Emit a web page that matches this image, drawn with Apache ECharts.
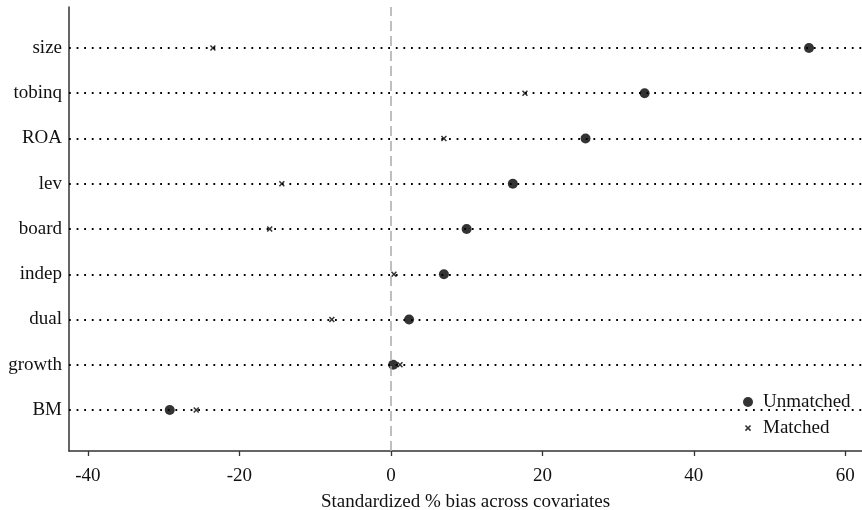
<!DOCTYPE html>
<html>
<head>
<meta charset="utf-8">
<script src="https://cdn.jsdelivr.net/npm/echarts@6/dist/echarts.min.js"></script>
<style>
html,body{margin:0;padding:0;background:#fff;}
#chart{width:862px;height:510px;}
</style>
</head>
<body>
<div id="chart"></div>
<script>
var categories = ['size','tobinq','ROA','lev','board','indep','dual','growth','BM'];
var unmatched = [55.2, 33.5, 25.7, 16.1, 10.0, 7.0, 2.4, 0.3, -29.2];
var matched   = [-23.5, 17.7, 7.0, -14.4, -16.0, 0.4, -7.8, 1.2, -25.7];
var xTicks = [-40, -20, 0, 20, 40, 60];
var seriesNames = ['Unmatched', 'Matched'];
var xTitle = 'Standardized % bias across covariates';

var n = categories.length;
function rowPos(i){ return n - i; }
var rowValues = categories.map(function(c, i){ return rowPos(i); });
function toPoints(arr){ return arr.map(function(v, i){ return [v, rowPos(i)]; }); }

var crossPath = 'M0,1.8 L1.8,0 L5,3.2 L8.2,0 L10,1.8 L6.8,5 L10,8.2 L8.2,10 L5,6.8 L1.8,10 L0,8.2 L3.2,5 Z';
var crossLegend = 'path://M-3,-3 L-3,-3 Z M13,13 L13,13 Z ' + crossPath;
var font = 'Liberation Serif';
var fs = 19;

var markData = rowValues.map(function(v){
  return { yAxis: v, lineStyle: { color: '#000', width: 1.8, type: [1.8, 5.8] } };
});
markData.push({ xAxis: 0, lineStyle: { color: '#aaaaaa', width: 1.5, type: [10, 5] } });

var chart = echarts.init(document.getElementById('chart'), null, {renderer: 'canvas'});
chart.setOption({
  animation: false,
  backgroundColor: '#fff',
  grid: { left: 69, right: 0, top: 7, bottom: 59, containLabel: false, outerBoundsMode: 'none' },
  xAxis: {
    type: 'value', min: -42.5, max: 62.2,
    splitLine: { show: false },
    axisLine: { show: true, onZero: false, lineStyle: { color: '#333', width: 1.5 } },
    axisTick: { show: true, inside: false, length: 5, customValues: xTicks, lineStyle: { color: '#333', width: 1.3 } },
    axisLabel: { customValues: xTicks, margin: 16, color: '#111', fontFamily: font, fontSize: fs },
    name: xTitle, nameLocation: 'middle', nameGap: 42,
    nameTextStyle: { color: '#111', fontFamily: font, fontSize: fs }
  },
  yAxis: {
    type: 'value', min: 0.094, max: n + 0.906,
    splitLine: { show: false },
    axisLine: { show: true, onZero: false, lineStyle: { color: '#333', width: 1.5 } },
    axisTick: { show: false },
    axisLabel: {
      customValues: rowValues, margin: 7, color: '#111', fontFamily: font, fontSize: fs,
      formatter: function(v){ return categories[n - Math.round(v)]; }
    }
  },
  legend: {
    orient: 'vertical', left: 731, top: 387,
    padding: [5, 12, 5, 12], backgroundColor: '#fff',
    itemWidth: 20, itemHeight: 10, itemGap: 6, selectedMode: false,
    textStyle: { color: '#111', fontFamily: font, fontSize: fs, lineHeight: 20 },
    data: [
      { name: seriesNames[0], icon: 'circle' },
      { name: seriesNames[1], icon: crossLegend }
    ]
  },
  series: [
    {
      type: 'scatter', name: 'guides', data: [], z: 1, silent: true,
      markLine: { silent: true, symbol: ['none', 'none'], label: { show: false }, animation: false, data: markData }
    },
    {
      type: 'scatter', name: seriesNames[0], data: toPoints(unmatched), z: 3,
      symbol: 'circle', symbolSize: 10, itemStyle: { color: '#000' }
    },
    {
      type: 'scatter', name: seriesNames[1], data: toPoints(matched), z: 3,
      symbol: 'path://' + crossPath, symbolSize: 6, itemStyle: { color: '#000' }
    }
  ]
});
</script>
</body>
</html>
